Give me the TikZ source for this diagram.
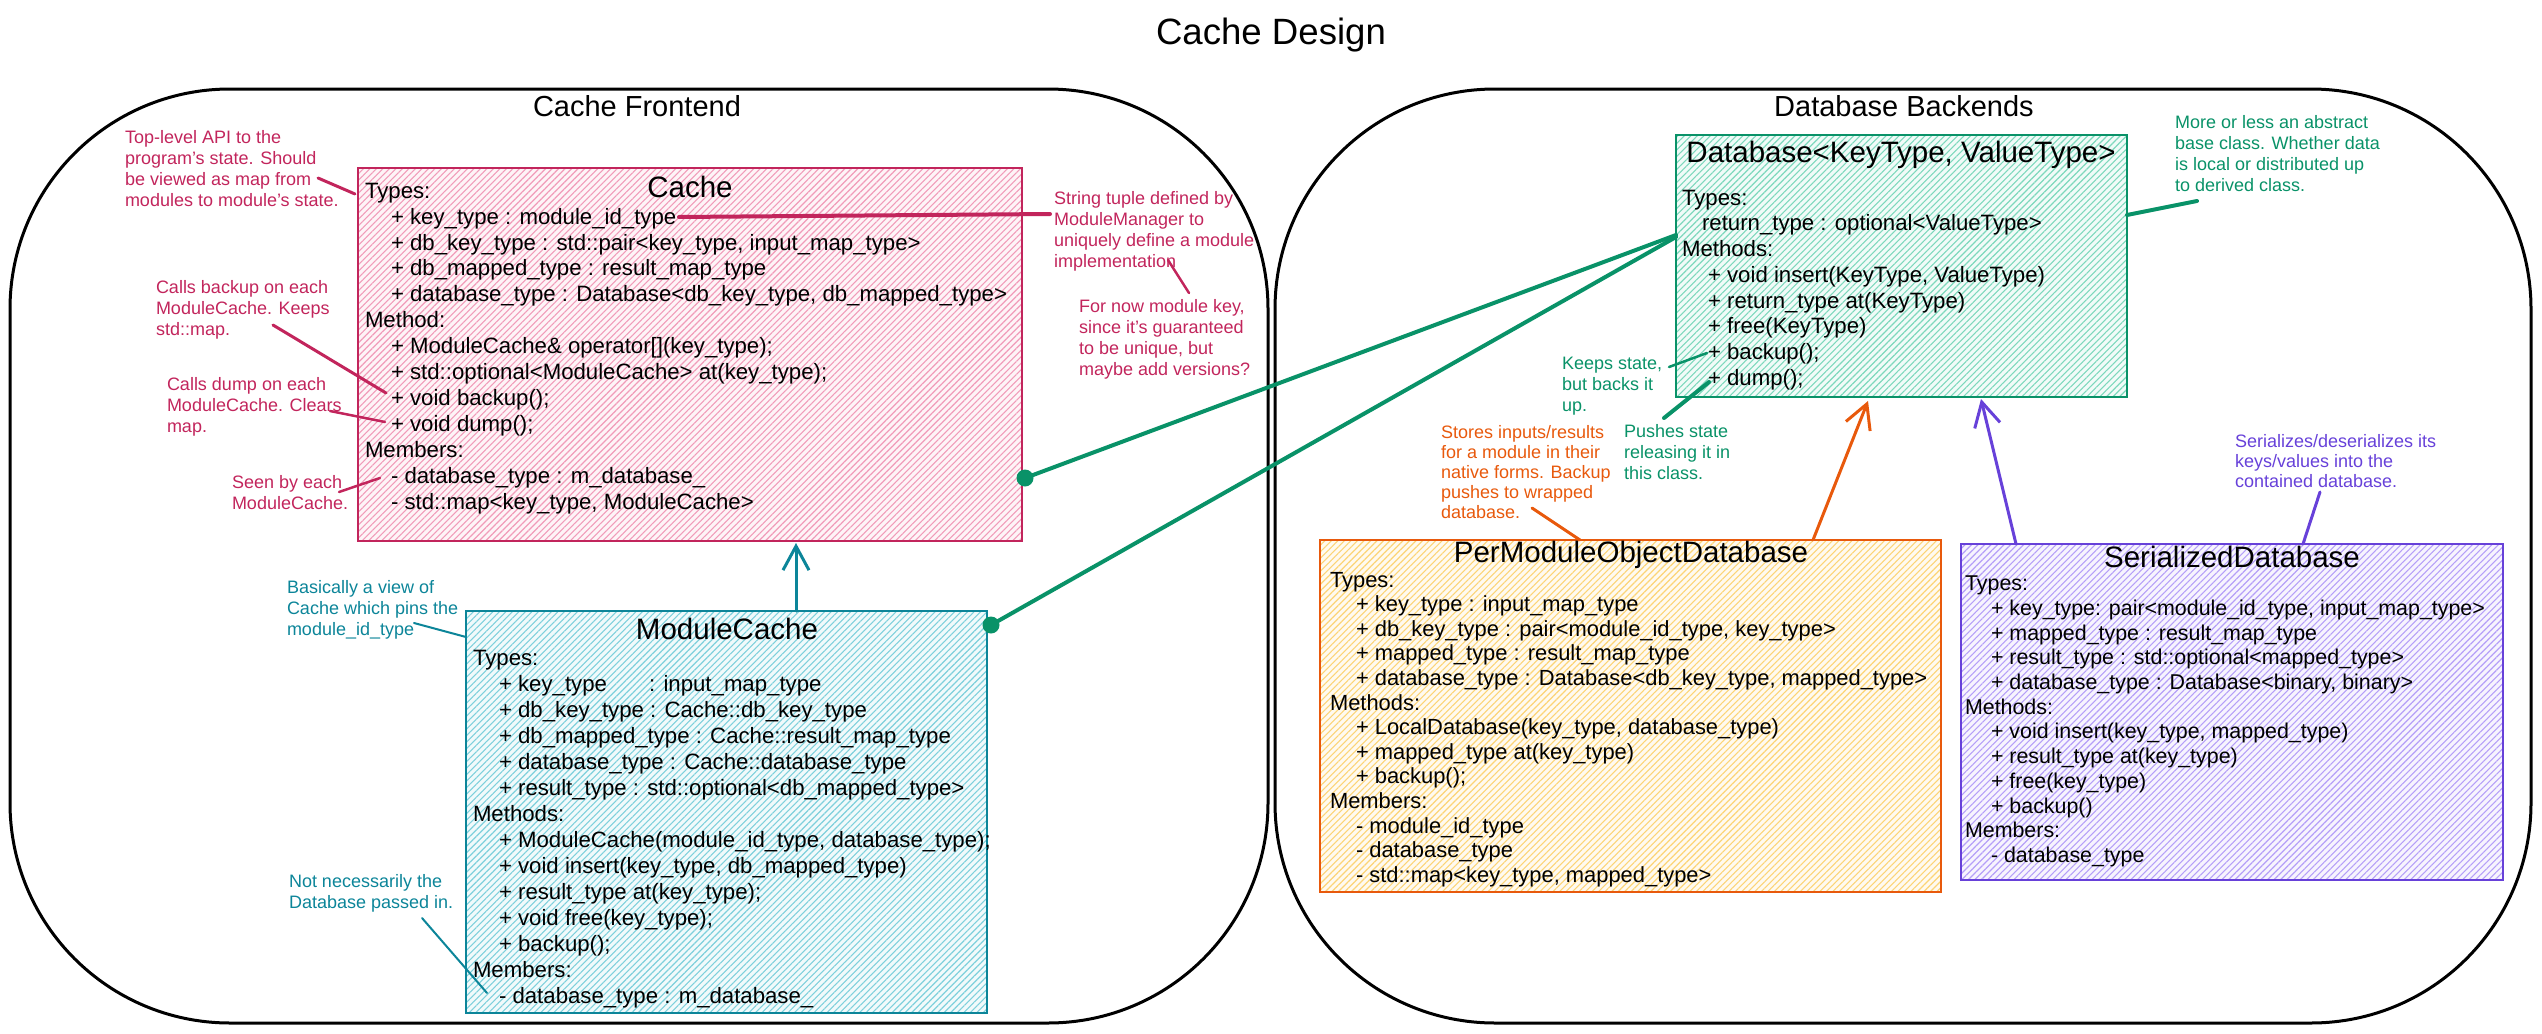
\documentclass[tikz,border=0pt]{standalone}
\usepackage{fontspec}
\setmainfont{Liberation Sans}
\usetikzlibrary{arrows.meta,patterns.meta}
\definecolor{crimS}{HTML}{C2255C}
\definecolor{crimF}{HTML}{E64980}
\definecolor{cyanS}{HTML}{0C8599}
\definecolor{cyanF}{HTML}{15AABF}
\definecolor{tealS}{HTML}{099268}
\definecolor{tealF}{HTML}{12B886}
\definecolor{orS}{HTML}{E8590C}
\definecolor{orF}{HTML}{FAB005}
\definecolor{viS}{HTML}{6741D9}
\definecolor{viF}{HTML}{7950F2}
\newcommand{\myind}{\hspace*{26pt}}
\begin{document}
\begin{tikzpicture}[x=1pt,y=-1pt,
  every node/.style={inner sep=0pt,outer sep=0pt},
  panelbox/.style={draw=black,line width=3pt,rounded corners=220pt,anchor=north west,minimum height=934pt},
  umlbox/.style 2 args={anchor=north west,line width=2.5pt,draw=#1,
     preaction={fill=#2!6},
     preaction={pattern={Lines[angle=45,distance=4.6pt,line width=1.1pt]},pattern color=#2!55}},
  boxtxt/.style={anchor=north west,align=left,font=\fontsize{22.2}{#1}\selectfont},
  boxttl/.style={anchor=base,font=\fontsize{29.5}{32}\selectfont},
  anntxt/.style={anchor=north west,align=left,text=#1,font=\fontsize{18}{21}\selectfont},
  cn/.style={draw=#1,line cap=round},
  arr/.style={-{Straight Barb[length=24pt,width=26pt]}}
]
\useasboundingbox (0,0) rectangle (2542,1033);

% titles
\node[anchor=base,font=\fontsize{36.6}{40}\selectfont] (title) at (1271,45) {Cache Design};

% panels
\node[panelbox,minimum width=1258pt] (front) at (10,89) {};
\node[panelbox,minimum width=1256pt] (back) at (1275,89) {};
\node[anchor=base,font=\fontsize{29}{32}\selectfont] (fronttl) at (637,116) {Cache Frontend};
\node[anchor=base,font=\fontsize{29}{32}\selectfont] (backtl) at (1904,116) {Database Backends};

% Cache
\node[umlbox={crimS}{crimF},minimum width=664pt,minimum height=373pt] (cache) at (358,168) {};
\node[boxttl] (cachettl) at (690,197) {Cache};
\node[boxtxt=25.9] (cachetxt) at (365,183) {Types:\\
\myind+ key\_type : module\_id\_type\\
\myind+ db\_key\_type : std::pair<key\_type, input\_map\_type>\\
\myind+ db\_mapped\_type : result\_map\_type\\
\myind+ database\_type : Database<db\_key\_type, db\_mapped\_type>\\
Method:\\
\myind+ ModuleCache\& operator[](key\_type);\\
\myind+ std::optional<ModuleCache> at(key\_type);\\
\myind+ void backup();\\
\myind+ void dump();\\
Members:\\
\myind- database\_type : m\_database\_\\
\myind- std::map<key\_type, ModuleCache>};

% ModuleCache
\node[umlbox={cyanS}{cyanF},minimum width=521pt,minimum height=402pt] (mcache) at (466,611) {};
\node[boxttl] (mcachettl) at (727,639) {ModuleCache};
\node[boxtxt=26.0] (mcachetxt) at (473,650) {Types:\\
\myind+ key\_type\hspace*{36pt} : input\_map\_type\\
\myind+ db\_key\_type : Cache::db\_key\_type\\
\myind+ db\_mapped\_type : Cache::result\_map\_type\\
\myind+ database\_type : Cache::database\_type\\
\myind+ result\_type : std::optional<db\_mapped\_type>\\
Methods:\\
\myind+ ModuleCache(module\_id\_type, database\_type);\\
\myind+ void insert(key\_type, db\_mapped\_type)\\
\myind+ result\_type at(key\_type);\\
\myind+ void free(key\_type);\\
\myind+ backup();\\
Members:\\
\myind- database\_type : m\_database\_};

% Database
\node[umlbox={tealS}{tealF},minimum width=451pt,minimum height=262pt] (db) at (1676,135) {};
\node[boxttl] (dbttl) at (1901,162) {Database<KeyType, ValueType>};
\node[boxtxt=25.7] (dbtxt) at (1682,190) {Types:\\
\hspace*{20pt}return\_type : optional<ValueType>\\
Methods:\\
\myind+ void insert(KeyType, ValueType)\\
\myind+ return\_type at(KeyType)\\
\myind+ free(KeyType)\\
\myind+ backup();\\
\myind+ dump();};

% PerModuleObjectDatabase
\node[umlbox={orS}{orF},minimum width=621pt,minimum height=352pt] (pmod) at (1320,540) {};
\node[boxttl] (pmodttl) at (1631,562) {PerModuleObjectDatabase};
\node[boxtxt=24.6,font=\fontsize{21.9}{24.6}\selectfont] (pmodtxt) at (1330,572) {Types:\\
\myind+ key\_type : input\_map\_type\\
\myind+ db\_key\_type : pair<module\_id\_type, key\_type>\\
\myind+ mapped\_type : result\_map\_type\\
\myind+ database\_type : Database<db\_key\_type, mapped\_type>\\
Methods:\\
\myind+ LocalDatabase(key\_type, database\_type)\\
\myind+ mapped\_type at(key\_type)\\
\myind+ backup();\\
Members:\\
\myind- module\_id\_type\\
\myind- database\_type\\
\myind- std::map<key\_type, mapped\_type>};

% SerializedDatabase
\node[umlbox={viS}{viF},minimum width=542pt,minimum height=336pt] (ser) at (1961,544) {};
\node[boxttl] (serttl) at (2232,567) {SerializedDatabase};
\node[boxtxt=24.7,font=\fontsize{21.4}{24.7}\selectfont] (sertxt) at (1965,576) {Types:\\
\myind+ key\_type: pair<module\_id\_type, input\_map\_type>\\
\myind+ mapped\_type : result\_map\_type\\
\myind+ result\_type : std::optional<mapped\_type>\\
\myind+ database\_type : Database<binary, binary>\\
Methods:\\
\myind+ void insert(key\_type, mapped\_type)\\
\myind+ result\_type at(key\_type)\\
\myind+ free(key\_type)\\
\myind+ backup()\\
Members:\\
\myind- database\_type};

% annotations
\node[anntxt=crimS] (n1) at (125,130) {Top-level API to the\\program's state. Should\\be viewed as map from\\modules to module's state.};
\node[anntxt=crimS] (n2) at (156,280) {Calls backup on each\\ModuleCache. Keeps\\std::map.};
\node[anntxt=crimS] (n3) at (167,377) {Calls dump on each\\ModuleCache. Clears\\map.};
\node[anntxt=crimS] (n4) at (232,475) {Seen by each\\ModuleCache.};
\node[anntxt=crimS] (n5) at (1054,191) {String tuple defined by\\ModuleManager to\\uniquely define a module\\implementation};
\node[anntxt=crimS] (n6) at (1079,299) {For now module key,\\since it's guaranteed\\to be unique, but\\maybe add versions?};
\node[anntxt=cyanS] (n7) at (287,580) {Basically a view of\\Cache which pins the\\module\_id\_type};
\node[anntxt=cyanS] (n8) at (289,874) {Not necessarily the\\Database passed in.};
\node[anntxt=tealS] (n9) at (2175,115) {More or less an abstract\\base class. Whether data\\is local or distributed up\\to derived class.};
\node[anntxt=tealS] (n10) at (1562,357) {Keeps state,\\but backs it\\up.};
\node[anntxt=tealS] (n11) at (1624,424) {Pushes state\\releasing it in\\this class.};
\node[anntxt=orS,font=\fontsize{18}{20}\selectfont] (n12) at (1441,425) {Stores inputs/results\\for a module in their\\native forms. Backup\\pushes to wrapped\\database.};
\node[anntxt=viS,font=\fontsize{18}{20}\selectfont] (n13) at (2235,434) {Serializes/deserializes its\\keys/values into the\\contained database.};

% connector end points
\coordinate (c1a) at (318,178); \coordinate (c1b) at (355,194);
\coordinate (c2a) at (273,325); \coordinate (c2b) at (386,393);
\coordinate (c3a) at (330,411); \coordinate (c3b) at (385,422);
\coordinate (c4a) at (339,492); \coordinate (c4b) at (380,478);
\coordinate (c5a) at (679,217); \coordinate (c5b) at (1050,214);
\coordinate (c6a) at (1168,260); \coordinate (c6b) at (1189,293);
\coordinate (c7a) at (414,623); \coordinate (c7b) at (466,637);
\coordinate (c8a) at (422,918); \coordinate (c8b) at (487,993);
\coordinate (a1a) at (796,611); \coordinate (a1b) at (796,543);
\coordinate (g1a) at (1025,478); \coordinate (g1b) at (1676,235);
\coordinate (g2a) at (991,625); \coordinate (g2b) at (1676,237);
\coordinate (g3a) at (2127,215); \coordinate (g3b) at (2197,201);
\coordinate (g4a) at (1669,367); \coordinate (g4b) at (1707,353);
\coordinate (g5a) at (1664,418); \coordinate (g5b) at (1709,382);
\coordinate (o1a) at (1532,508); \coordinate (o1b) at (1580,540);
\coordinate (o2a) at (1813,540); \coordinate (o2b) at (1868,401);
\coordinate (v1a) at (2016,544); \coordinate (v1b) at (1981,399);
\coordinate (v2a) at (2320,492); \coordinate (v2b) at (2303,544);

% connectors
\draw[cn=crimS,line width=3pt] (c1a) -- (c1b);
\draw[cn=crimS,line width=3pt] (c2a) -- (c2b);
\draw[cn=crimS,line width=2.5pt] (c3a) -- (c3b);
\draw[cn=crimS,line width=2.5pt] (c4a) -- (c4b);
\draw[cn=crimS,line width=4pt] (c5a) -- (c5b);
\draw[cn=crimS,line width=2.5pt] (c6a) -- (c6b);
\draw[cn=cyanS,line width=2pt] (c7a) -- (c7b);
\draw[cn=cyanS,line width=2pt] (c8a) -- (c8b);
\draw[cn=cyanS,line width=3pt,arr] (a1a) -- (a1b);
\draw[cn=tealS,line width=4pt] (g1a) -- (g1b);
\draw[cn=tealS,line width=4pt] (g2a) -- (g2b);
\fill[tealS] (g1a) circle (8.5pt);
\fill[tealS] (g2a) circle (8.5pt);
\draw[cn=tealS,line width=4pt] (g3a) -- (g3b);
\draw[cn=tealS,line width=2.5pt] (g4a) -- (g4b);
\draw[cn=tealS,line width=4pt] (g5a) -- (g5b);
\draw[cn=orS,line width=3pt] (o1a) -- (o1b);
\draw[cn=orS,line width=3pt,arr] (o2a) -- (o2b);
\draw[cn=viS,line width=3pt,arr] (v1a) -- (v1b);
\draw[cn=viS,line width=3pt] (v2a) -- (v2b);
\end{tikzpicture}
\end{document}
